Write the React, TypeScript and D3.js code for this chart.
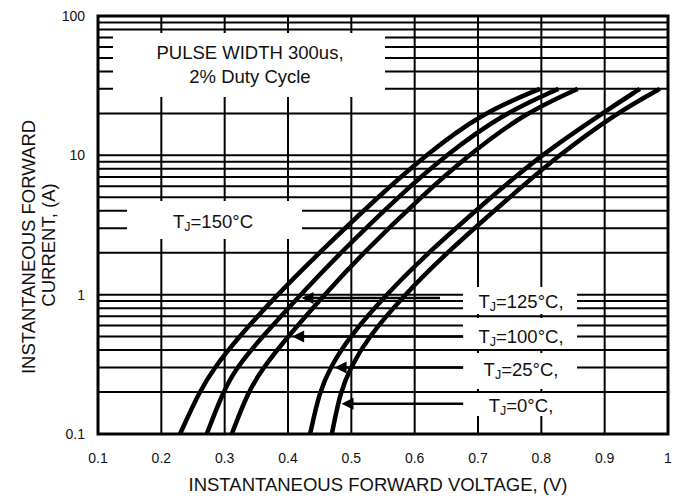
import * as d3 from 'd3';

// forward current levels (A) shared by all curves
const CURRENT = [0.1, 0.2, 0.3, 0.5, 1, 2, 5, 10, 20, 30];

// forward voltage (V) at each current level, per junction temperature
const V_150 = [0.2295, 0.2596, 0.2837, 0.3227, 0.3831, 0.4494, 0.5415, 0.6169, 0.7052, 0.7978];
const V_125 = [0.2717, 0.2972, 0.3186, 0.3594, 0.4197, 0.4829, 0.5731, 0.6485, 0.7404, 0.8269];
const V_100 = [0.3112, 0.3367, 0.3608, 0.3998, 0.4575, 0.5190, 0.6092, 0.6845, 0.7728, 0.8573];
const V_25 = [0.4349, 0.4496, 0.4665, 0.4970, 0.5547, 0.6210, 0.7205, 0.7986, 0.8959, 0.9556];
const V_0 = [0.4692, 0.4825, 0.4986, 0.5273, 0.5840, 0.6504, 0.7499, 0.8270, 0.9177, 0.9871];

const SERIES = [V_150, V_125, V_100, V_25, V_0];

const X_TICKS = [0.1, 0.2, 0.3, 0.4, 0.5, 0.6, 0.7, 0.8, 0.9, 1];
const X_TICK_LABELS = ['0.1', '0.2', '0.3', '0.4', '0.5', '0.6', '0.7', '0.8', '0.9', '1'];
const Y_TICKS = [0.1, 1, 10, 100];
const Y_TICK_LABELS = ['0.1', '1', '10', '100'];

const LEGEND_TEMPS = ['125', '100', '25', '0'];

const W = 682;
const H = 498;
const FONT = '"Liberation Sans", Arial, sans-serif';

const x = d3.scaleLinear().domain([0.1, 1]).range([98, 668]);
const y = d3.scaleLog().domain([0.1, 100]).range([434, 16]);

// label boxes on the right: [top, bottom, baseline] in px
const LEGEND_BOXES = [
  [287, 314, 308],
  [318, 349, 343],
  [353, 389, 376],
  [393, 416, 412],
];
// arrow tips [V, I] and tail voltage
const ARROWS = [
  { tip: [0.4213, 0.946], tail: 0.640 },
  { tip: [0.4065, 0.5], tail: 0.6766 },
  { tip: [0.4736, 0.3], tail: 0.6766 },
  { tip: [0.4845, 0.165], tail: 0.6766 },
];

function Tj({ t, comma, ...rest }: any) {
  return (
    <text fontFamily={FONT} fontSize={18.5} fill="#111" textAnchor="middle" {...rest}>
      T
      <tspan fontSize={12.5} dy={3}>J</tspan>
      <tspan dy={-3}>{`=${t}°C${comma ? ',' : ''}`}</tspan>
    </text>
  );
}

export default function App() {
  const line = d3
    .line<number>()
    .x((d) => x(d))
    .y((_, i) => y(CURRENT[i]))
    .curve(d3.curveBasis);

  const hTicks = y.ticks();
  const [x0, x1] = x.range();
  const [yb, yt] = y.range();

  return (
    <div style={{ position: 'absolute', left: 0, top: 0 }}>
      <svg width={W} height={H} style={{ display: 'block', background: '#fff' }}>
        {/* grid */}
        <g stroke="#000" strokeWidth={2}>
          {hTicks.map((t) => (
            <line key={'h' + t} x1={x0} x2={x1} y1={y(t)} y2={y(t)} />
          ))}
          {X_TICKS.map((t) => (
            <line key={'v' + t} x1={x(t)} x2={x(t)} y1={yb} y2={yt} />
          ))}
        </g>

        {/* white label boxes */}
        <g fill="#fff">
          <rect x={113} y={33} width={272} height={64} />
          <rect x={127} y={201} width={175} height={38} />
          {LEGEND_BOXES.map(([t, b], i) => (
            <rect key={i} x={463} y={t} width={114} height={b - t} />
          ))}
        </g>

        {/* frame */}
        <rect x={x0} y={yt} width={x1 - x0} height={yb - yt} fill="none" stroke="#000" strokeWidth={3} />

        {/* curves */}
        <g fill="none" stroke="#000" strokeWidth={4.5} strokeLinejoin="round">
          {SERIES.map((s, i) => (
            <path key={i} d={line(s) || ''} />
          ))}
        </g>

        {/* arrows */}
        <g>
          {ARROWS.map((a, i) => {
            const tx = x(a.tip[0]);
            const ty = y(a.tip[1]);
            return (
              <g key={i}>
                <line x1={x(a.tail)} x2={tx + 8} y1={ty} y2={ty} stroke="#000" strokeWidth={2.5} />
                <polygon points={`${tx},${ty} ${tx + 12},${ty - 6} ${tx + 12},${ty + 6}`} fill="#000" />
              </g>
            );
          })}
        </g>

        {/* annotation texts */}
        <g fontFamily={FONT} fontSize={18.5} fill="#111" textAnchor="middle">
          <text x={250} y={59}>PULSE WIDTH 300us,</text>
          <text x={250} y={83}>2% Duty Cycle</text>
        </g>
        <Tj t="150" x={213} y={228} />
        {LEGEND_TEMPS.map((t, i) => (
          <Tj key={t} t={t} comma x={521} y={LEGEND_BOXES[i][2]} />
        ))}

        {/* tick labels */}
        <g fontFamily={FONT} fontSize={14} fill="#111">
          {X_TICKS.map((t, i) => (
            <text key={t} x={x(t)} y={463} textAnchor="middle">
              {X_TICK_LABELS[i]}
            </text>
          ))}
          {Y_TICKS.map((t, i) => (
            <text key={t} x={85} y={y(t) + 5} textAnchor="end">
              {Y_TICK_LABELS[i]}
            </text>
          ))}
        </g>

        {/* axis titles */}
        <g fontFamily={FONT} fontSize={18.5} fill="#111" textAnchor="middle">
          <text x={378} y={491}>INSTANTANEOUS FORWARD VOLTAGE, (V)</text>
          <text transform="rotate(-90)" x={-247} y={35}>INSTANTANEOUS FORWARD</text>
          <text transform="rotate(-90)" x={-245} y={55}>CURRENT, (A)</text>
        </g>
      </svg>
    </div>
  );
}
